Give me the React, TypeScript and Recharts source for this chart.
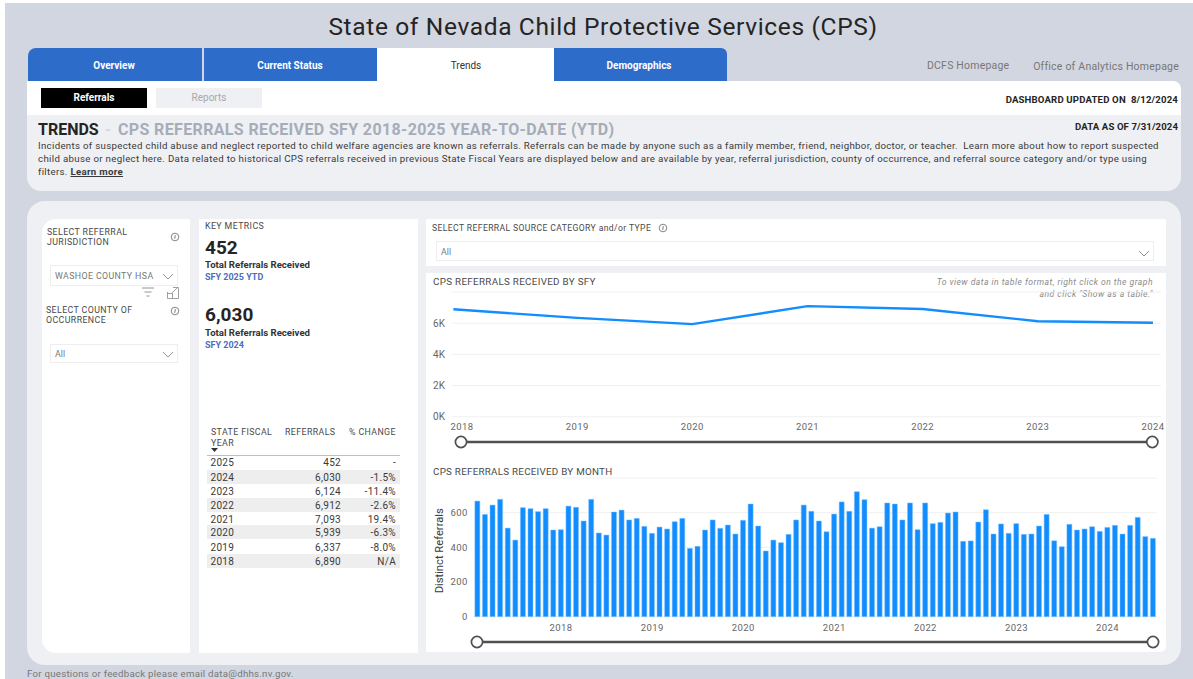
import React from "react";
import { LineChart, Line, BarChart, Bar, XAxis, YAxis, CartesianGrid } from "recharts";

const FONT = "Roboto, 'Noto Sans', sans-serif";

// Annual chart: the first vertex sits slightly left of its tick in the picture
const sfyPositions = [2017.925, 2019, 2020, 2021, 2022, 2023, 2024];
const sfyReferrals = [6890, 6337, 5939, 7093, 6912, 6124, 6030];
const sfyTicks = [2018, 2019, 2020, 2021, 2022, 2023, 2024];
const sfyValueTicks = [0, 2000, 4000, 6000];

const monthlyReferrals = [
  667, 590, 644, 677, 511, 442, 629, 623, 606, 623, 500, 502,
  638, 631, 552, 677, 483, 471, 604, 615, 558, 567, 521, 481,
  517, 506, 548, 567, 394, 406, 500, 558, 510, 529, 477, 556,
  650, 523, 379, 442, 427, 475, 558, 644, 608, 552, 490, 592,
  662, 608, 721, 675, 511, 519, 656, 650, 558, 656, 502, 656,
  537, 544, 598, 604, 435, 437, 546, 617, 477, 535, 481, 537,
  475, 477, 523, 590, 438, 404, 533, 500, 506, 519, 492, 515,
  527, 477, 527, 573, 462, 452,
];
const monthYears = [2017, 2018, 2019, 2020, 2021, 2022, 2023, 2024];
const monthLabels = monthYears.flatMap((y) =>
  ["01", "02", "03", "04", "05", "06", "07", "08", "09", "10", "11", "12"].map((m) => `${y}-${m}`)
).slice(1, 91);
const monthTicks = ["2018-01", "2019-01", "2020-01", "2021-01", "2022-01", "2023-01", "2024-01"];
const monthValueTicks = [0, 200, 400, 600];

const tableYears = ["2025", "2024", "2023", "2022", "2021", "2020", "2019", "2018"];
const tableReferrals = ["452", "6,030", "6,124", "6,912", "7,093", "5,939", "6,337", "6,890"];
const tableChanges = ["-", "-1.5%", "-11.4%", "-2.6%", "19.4%", "-6.3%", "-8.0%", "N/A"];
const tableRowCentres = [462, 477, 491, 505, 519, 532, 547, 561];

const sfyData = sfyPositions.map((position, i) => ({ position, referrals: sfyReferrals[i] }));
const monthData = monthLabels.map((month, i) => ({ month, referrals: monthlyReferrals[i] }));

type TP = {
  x?: number; r?: number; y: number; s: number; c?: string; b?: boolean; i?: boolean; ls?: number;
  children: React.ReactNode; cx?: number;
};
function T({ x, r, cx, y, s, c = "#333", b, i, ls, children }: TP) {
  const style: React.CSSProperties = {
    position: "absolute", top: y + 0.7, lineHeight: 0, whiteSpace: "pre", fontSize: s, color: c,
    fontWeight: b ? 700 : 400, fontStyle: i ? "italic" : "normal", letterSpacing: ls,
  };
  if (x !== undefined) style.left = x;
  if (r !== undefined) style.right = 1193 - r;
  if (cx !== undefined) { style.left = cx; style.transform = "translateX(-50%)"; }
  return <div style={style}>{children}</div>;
}

function Box({ x, y, x2, y2, bg, radius, border }: { x: number; y: number; x2: number; y2: number; bg: string; radius?: string; border?: string }) {
  return <div style={{ position: "absolute", left: x, top: y, width: x2 - x, height: y2 - y, background: bg, borderRadius: radius, border, boxSizing: "border-box" }} />;
}

function Chevron({ x, y }: { x: number; y: number }) {
  return (
    <svg style={{ position: "absolute", left: x - 6, top: y - 4 }} width={12} height={8}>
      <path d="M1 1 L6 6 L11 1" fill="none" stroke="#8a8a8a" strokeWidth={0.9} />
    </svg>
  );
}
function Info({ x, y }: { x: number; y: number }) {
  return (
    <svg style={{ position: "absolute", left: x - 5, top: y - 5 }} width={10} height={10}>
      <circle cx={5} cy={5} r={3.8} fill="none" stroke="#666" strokeWidth={0.8} />
      <path d="M5.3 3.2 L4.7 6.8" stroke="#666" strokeWidth={0.9} />
    </svg>
  );
}
function Slider({ x1, x2, y }: { x1: number; x2: number; y: number }) {
  return (
    <svg style={{ position: "absolute", left: x1 - 8, top: y - 8 }} width={x2 - x1 + 16} height={16}>
      <line x1={8} x2={x2 - x1 + 8} y1={8} y2={8} stroke="#505050" strokeWidth={2.6} />
      <circle cx={8} cy={8} r={5.6} fill="#fff" stroke="#505050" strokeWidth={1.7} />
      <circle cx={x2 - x1 + 8} cy={8} r={5.6} fill="#fff" stroke="#505050" strokeWidth={1.7} />
    </svg>
  );
}

const BLUE = "#2d6cc9";
const PANEL = "#eef0f4";
const LABEL = "#4a4a4a";

export default function App() {
  return (
    <div style={{ position: "absolute", left: 0, top: 0, width: 1193, height: 679, overflow: "hidden", background: "#fff", fontFamily: FONT }}>
      <Box x={5} y={3} x2={1193} y2={679} bg="#d2d6e0" />
      <T cx={603} y={26.5} s={24.5} c="#252423" ls={0.65}>State of Nevada Child Protective Services (CPS)</T>

      <Box x={27.5} y={48} x2={201.7} y2={81} bg={BLUE} radius="8px 0 0 0" />
      <Box x={203.6} y={48} x2={376.6} y2={81} bg={BLUE} />
      <Box x={376.6} y={48} x2={553.8} y2={81} bg="#fff" />
      <Box x={553.8} y={48} x2={727.5} y2={81} bg={BLUE} radius="0 6px 0 0" />
      <T cx={114} y={65} s={10} c="#fff" b>Overview</T>
      <T cx={290} y={65} s={10} c="#fff" b>Current Status</T>
      <T cx={466} y={65} s={10} c="#333">Trends</T>
      <T cx={639} y={65} s={10} c="#fff" b>Demographics</T>
      <T x={927} y={65} s={10.5} c="#777" ls={0.2}>DCFS Homepage</T>
      <T r={1179} y={66} s={10.5} c="#777" ls={0.22}>Office of Analytics Homepage</T>

      <Box x={27} y={81} x2={1181} y2={116} bg="#fff" radius="0 8px 0 0" />
      <Box x={27} y={115} x2={1181} y2={191} bg={PANEL} radius="0 0 14px 14px" />
      <Box x={40.6} y={88} x2={146.6} y2={107.5} bg="#000" />
      <Box x={156} y={88} x2={262} y2={107.5} bg={PANEL} />
      <T cx={94} y={97.3} s={10} c="#fff" b>Referrals</T>
      <T cx={209} y={97.3} s={10} c="#a8a8a8">Reports</T>
      <T r={1178} y={99} s={9.6} c="#252423" b ls={0.16}>DASHBOARD UPDATED ON  8/12/2024</T>
      <T r={1178} y={126} s={9.6} c="#252423" b ls={0.1}>DATA AS OF 7/31/2024</T>

      <T x={38} y={129.5} s={16} c="#252423" b>TRENDS</T>
      <T x={105} y={129.5} s={16} c="#d5d8de" b>-</T>
      <T x={118} y={129.5} s={16} c="#a6adb8" b ls={0.36}>CPS REFERRALS RECEIVED SFY 2018-2025 YEAR-TO-DATE (YTD)</T>
      <T x={38} y={145.5} s={9.7} c="#3a3a3a" ls={0.31}>Incidents of suspected child abuse and neglect reported to child welfare agencies are known as referrals. Referrals can be made by anyone such as a family member, friend, neighbor, doctor, or teacher.  Learn more about how to report suspected</T>
      <T x={38} y={158.5} s={9.7} c="#3a3a3a" ls={0.32}>child abuse or neglect here. Data related to historical CPS referrals received in previous State Fiscal Years are displayed below and are available by year, referral jurisdiction, county of occurrence, and referral source category and/or type using</T>
      <T x={38} y={171.5} s={9.7} c="#3a3a3a" ls={0.31}>filters. <span style={{ fontWeight: 700, textDecoration: "underline" }}>Learn more</span></T>

      <Box x={27} y={201} x2={1181} y2={665} bg={PANEL} radius="18px" />
      <Box x={42} y={219} x2={190} y2={652.7} bg="#fff" radius="14px 0 0 14px" />
      <Box x={199} y={219} x2={418} y2={652.7} bg="#fff" />
      <Box x={426} y={219} x2={1166} y2={266} bg="#fff" />
      <Box x={426} y={273} x2={1166} y2={651.5} bg="#fff" radius="0 0 6px 0" />

      <T x={47} y={231.3} s={8.8} c={LABEL} ls={0.4}>SELECT REFERRAL</T>
      <T x={47} y={241.3} s={8.8} c={LABEL} ls={0.4}>JURISDICTION</T>
      <Info x={175} y={237} />
      <Box x={50} y={265} x2={178} y2={286} bg="#fff" border="1px solid #eeeeee" />
      <T x={55} y={275.3} s={8.8} c="#777" ls={0.4}>WASHOE COUNTY HSA</T>
      <Chevron x={168} y={277} />
      <svg style={{ position: "absolute", left: 141, top: 286 }} width={40} height={14}>
        <path d="M1 2 H13 M3.5 6 H10.5 M5.5 10 H8.5" stroke="#777" strokeWidth={0.8} />
        <path d="M32 1.5 H37.5 V12.5 H26.5 V6 M26.5 7.5 H31.5 V12.5 M31 7 L36 2" fill="none" stroke="#888" strokeWidth={0.8} />
      </svg>
      <T x={46} y={309.3} s={8.8} c={LABEL} ls={0.4}>SELECT COUNTY OF</T>
      <T x={46} y={319.3} s={8.8} c={LABEL} ls={0.4}>OCCURRENCE</T>
      <Info x={175} y={311} />
      <Box x={50} y={344} x2={178} y2={363} bg="#fff" border="1px solid #eeeeee" />
      <T x={55} y={353.3} s={8.8} c="#777">All</T>
      <Chevron x={168} y={355} />

      <T x={205} y={225.3} s={8.8} c={LABEL} ls={0.4}>KEY METRICS</T>
      <T x={205} y={246.8} s={19} c="#252423" b>452</T>
      <T x={205} y={264.3} s={9.6} c="#333" b>Total Referrals Received</T>
      <T x={205} y={276.3} s={9} c="#4a6fc0" b>SFY 2025 YTD</T>
      <T x={205} y={313.8} s={19} c="#252423" b>6,030</T>
      <T x={205} y={332.3} s={9.6} c="#333" b>Total Referrals Received</T>
      <T x={205} y={344.3} s={9} c="#4a6fc0" b>SFY 2024</T>

      <T x={211} y={431.3} s={8.8} c={LABEL} ls={0.4}>STATE FISCAL</T>
      <T x={211} y={442.3} s={8.8} c={LABEL} ls={0.4}>YEAR</T>
      <T x={285} y={431.3} s={8.8} c={LABEL} ls={0.4}>REFERRALS</T>
      <T x={349} y={431.3} s={8.8} c={LABEL} ls={0.4}>% CHANGE</T>
      <svg style={{ position: "absolute", left: 211, top: 448 }} width={8} height={5}><path d="M0 0 H7 L3.5 4 Z" fill="#333" /></svg>
      <Box x={207} y={454.5} x2={399.5} y2={455.7} bg="#9cc9f2" />
      {tableYears.map((year, i) => (
        <React.Fragment key={year}>
          {i % 2 === 1 && <Box x={207} y={tableRowCentres[i] - 7} x2={400} y2={tableRowCentres[i] + 7} bg="#eeeeee" />}
          <T x={210.5} y={tableRowCentres[i]} s={10} c="#3a3a3a" ls={0.3}>{year}</T>
          <T r={341} y={tableRowCentres[i]} s={10} c="#3a3a3a" ls={0.3}>{tableReferrals[i]}</T>
          <T r={396} y={tableRowCentres[i]} s={10} c="#3a3a3a" ls={0.3}>{tableChanges[i]}</T>
        </React.Fragment>
      ))}

      <T x={432} y={227.3} s={8.6} c={LABEL} ls={0.39}>SELECT REFERRAL SOURCE CATEGORY and/or TYPE</T>
      <Info x={663} y={228} />
      <Box x={436} y={241} x2={1154} y2={261} bg="#fff" border="1px solid #eeeeee" />
      <T x={441} y={251.3} s={8.8} c="#777">All</T>
      <Chevron x={1144} y={254} />

      <T x={433} y={281.3} s={9.8} c={LABEL} ls={0.32}>CPS REFERRALS RECEIVED BY SFY</T>
      <T r={1153} y={281.3} s={8.6} c="#8a8a8a" i ls={0.46}>To view data in table format, right click on the graph</T>
      <T r={1153} y={293.3} s={8.6} c="#8a8a8a" i ls={0.46}>and click "Show as a table."</T>
      <div style={{ position: "absolute", left: 426, top: 280 }}>
        <LineChart width={740} height={160} data={sfyData} margin={{ top: 12, right: 5, bottom: 0, left: 0 }}>
          <CartesianGrid horizontal vertical={false} stroke="#f0f0f0" />
          <XAxis
            type="number" dataKey="position" domain={[2017.913, 2024.07]} ticks={sfyTicks} interval={0}
            axisLine={false} tickLine={false} tickSize={0} tickMargin={7} height={23.3}
            tick={{ fontSize: 9.5, fill: "#666", letterSpacing: 0.4, fontFamily: FONT }}
          />
          <YAxis
            width={26} domain={[0, 8000]} ticks={sfyValueTicks} axisLine={false} tickLine={false} tickSize={0} tickMargin={7}
            tickFormatter={(v: number) => `${v / 1000}K`}
            tick={{ fontSize: 10, fill: "#666", fontFamily: FONT }}
          />
          <Line type="linear" dataKey="referrals" stroke="#118DFF" strokeWidth={2.4} dot={false} isAnimationActive={false} />
        </LineChart>
      </div>
      <Slider x1={460.7} x2={1152} y={442} />

      <T x={433} y={471.3} s={9.8} c={LABEL} ls={0.26}>CPS REFERRALS RECEIVED BY MONTH</T>
      <div style={{ position: "absolute", left: 426, top: 470 }}>
        <BarChart width={740} height={170} data={monthData} margin={{ top: 8, right: 9.1, bottom: 0, left: 0 }} barCategoryGap="14%">
          <CartesianGrid horizontal vertical={false} stroke="#f0f0f0" />
          <XAxis
            dataKey="month" ticks={monthTicks} interval={0} axisLine={false} tickLine={false} tickSize={0} tickMargin={8} height={23.3}
            tickFormatter={(v: string) => v.slice(0, 4)}
            tick={{ fontSize: 9.5, fill: "#666", letterSpacing: 0.4, fontFamily: FONT }}
          />
          <YAxis
            width={47.8} domain={[0, 800]} ticks={monthValueTicks} axisLine={false} tickLine={false} tickSize={0} tickMargin={6}
            tick={{ fontSize: 9.5, fill: "#666", letterSpacing: 0.4, fontFamily: FONT }}
            label={{ value: "Distinct Referrals", angle: -90, position: "insideLeft", offset: 13, dy: 46, style: { fontSize: 11.2, fill: "#3a3a3a", fontFamily: FONT } }}
          />
          <Bar dataKey="referrals" fill="#118DFF" stroke="#7cc0ff" strokeWidth={0.5} isAnimationActive={false} />
        </BarChart>
      </div>
      <Slider x1={477} x2={1153} y={641.7} />

      <T x={27} y={673} s={9.7} c="#777" ls={0.25}>For questions or feedback please email data@dhhs.nv.gov.</T>
    </div>
  );
}
